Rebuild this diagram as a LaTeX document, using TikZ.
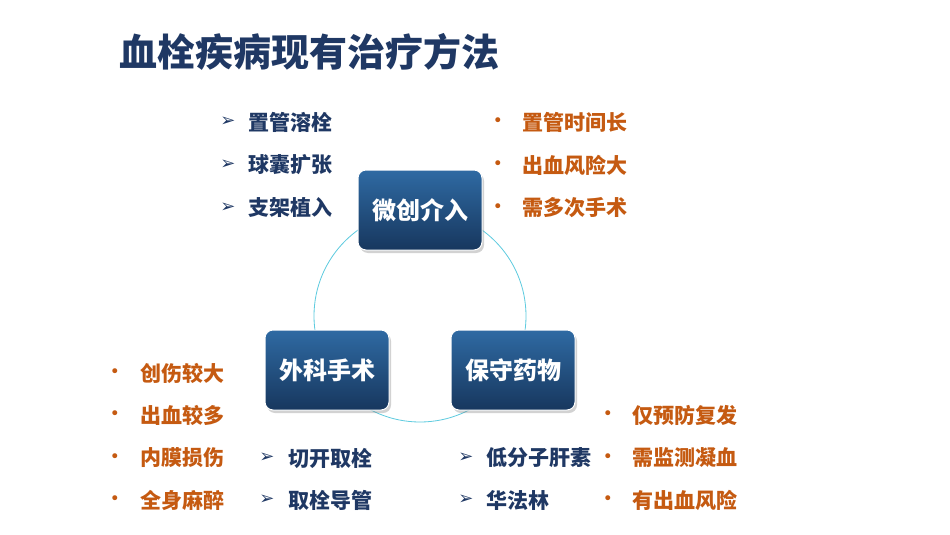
\documentclass[tikz,border=0pt]{standalone}
\usepackage{fontspec}
\setmainfont{Noto Sans CJK SC}
\newfontfamily\sym{DejaVu Sans}
\usetikzlibrary{shadows}
\definecolor{tblue}{HTML}{1F3864}
\definecolor{bxtop}{HTML}{2F6AA3}
\definecolor{bxbot}{HTML}{17375E}
\definecolor{org}{HTML}{C55A11}
\begin{document}
\begin{tikzpicture}[x=1pt,y=-1pt,
  box/.style={draw=white,line width=1pt,rounded corners=8pt,minimum width=124pt,minimum height=80pt,
    top color=bxtop,bottom color=bxbot,text=white,font=\fontsize{24}{24}\selectfont\bfseries,
    drop shadow={opacity=0.35,shadow xshift=2pt,shadow yshift=-3pt}},
  bl/.style={anchor=west,text=tblue,font=\fontsize{21}{21}\selectfont\bfseries,inner sep=0pt},
  ol/.style={anchor=west,text=org,font=\fontsize{21}{21}\selectfont\bfseries,inner sep=0pt},
  ar/.style={text=tblue,font=\sym\fontsize{18}{18}\selectfont,inner sep=0pt},
  dt/.style={text=org,font=\sym\fontsize{17}{17}\selectfont,inner sep=0pt}]
\useasboundingbox[fill=white] (0,0) rectangle (950,535);
\node[anchor=west,text=tblue,font=\fontsize{38}{38}\selectfont\bfseries,inner sep=0pt] (title) at (119,52) {血栓疾病现有治疗方法};
\node[draw=bxtop!50!cyan!70,line width=0.8pt,circle,minimum size=212pt] (c) at (420,316) {};
\node[box] (wc) at (420,210) {微创介入};
\node[box] (wk) at (327,370) {外科手术};
\node[box] (bs) at (513,370) {保守药物};
\foreach \t/\y [count=\i] in {置管溶栓/122,球囊扩张/165,支架植入/208}{
  \node[ar] (a\i) at (228,\y) {➢}; \node[bl] (b\i) at (248,\y) {\t};}
\foreach \t/\y [count=\i] in {置管时间长/122,出血风险大/165,需多次手术/208}{
  \node[dt] (d\i) at (498,\y) {•}; \node[ol] (e\i) at (522,\y) {\t};}
\foreach \t/\y [count=\i] in {创伤较大/373,出血较多/415,内膜损伤/458,全身麻醉/500}{
  \node[dt] (f\i) at (115,\y) {•}; \node[ol] (g\i) at (140,\y) {\t};}
\foreach \t/\y [count=\i] in {切开取栓/458,取栓导管/500}{
  \node[ar] (h\i) at (267,\y) {➢}; \node[bl] (k\i) at (288,\y) {\t};}
\foreach \t/\y [count=\i] in {低分子肝素/458,华法林/500}{
  \node[ar] (m\i) at (466,\y) {➢}; \node[bl] (n\i) at (486,\y) {\t};}
\foreach \t/\y [count=\i] in {仅预防复发/415,需监测凝血/458,有出血风险/500}{
  \node[dt] (p\i) at (608,\y) {•}; \node[ol] (q\i) at (632,\y) {\t};}
\end{tikzpicture}
\end{document}
